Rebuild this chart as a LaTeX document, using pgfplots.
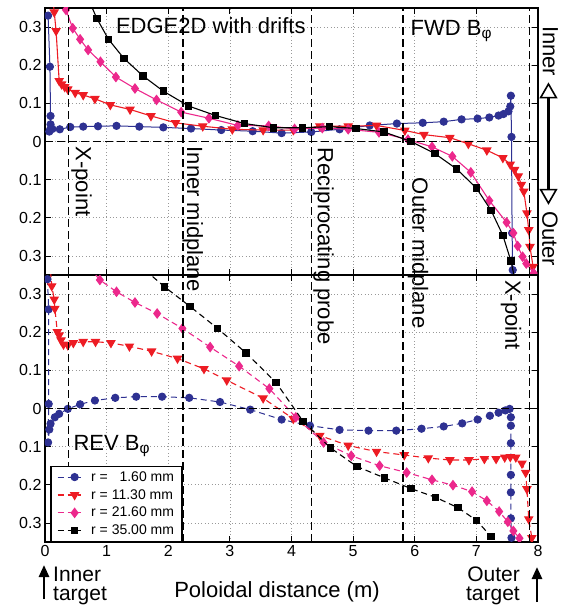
\documentclass[border=0pt]{standalone}
\usepackage{pgfplots}
\pgfplotsset{compat=1.18}
\usepackage{fontspec}
\setmainfont{Liberation Sans}
\usetikzlibrary{arrows.meta}

\definecolor{lineBlue}{RGB}{46,49,146}
\definecolor{lineRed}{RGB}{237,28,36}
\definecolor{linePink}{RGB}{236,40,140}

\newcommand{\bigtxt}{\fontsize{22}{24}\selectfont}
\newcommand{\midtxt}{\fontsize{21}{24}\selectfont}

\tikzset{vline/.style={black, line width=1.1pt, dash pattern=on 8pt off 4pt}}

\pgfplotsset{
  panel/.style={
    width=493pt, height=267pt, scale only axis,
    xmin=0, xmax=8, ymin=-0.35, ymax=0.35,
    xtick={0,1,...,8},
    ytick={-0.3,-0.2,-0.1,0,0.1,0.2,0.3},
    yticklabels={0.3,0.2,0.1,0,0.1,0.2,0.3},
    /pgf/number format/assume math mode=true,
    tick label style={font=\fontsize{16}{18}\selectfont},
    grid=major,
    grid style={gray!80, line width=0.6pt, dash pattern=on 0.8pt off 2.6pt},
    axis line style={line width=1.3pt},
    major tick length=6pt,
    tick style={line width=0.8pt, black},
    clip mode=individual,
    clip marker paths=true,
  },
  sBlue/.style={color=lineBlue, line width=1pt, mark=*, mark size=3.6pt, mark options={solid, fill=lineBlue}},
  sRed/.style={color=lineRed, line width=1.1pt, mark=triangle*, mark size=4.5pt, mark options={solid, rotate=180, fill=lineRed}},
  sPink/.style={color=linePink, line width=1.1pt, mark=diamond*, mark size=4.5pt, mark options={solid, fill=linePink}},
  sBlack/.style={color=black, line width=1.1pt, mark=square*, mark size=3.2pt, mark options={solid, fill=black}},
}

\begin{document}
\begin{tikzpicture}

% ---------- top panel: forward field ----------
\begin{axis}[panel, name=top, at={(0,267pt)}, anchor=south west, xticklabels={}]
  \addplot[sBlue] coordinates {
    (0.05,0.33) (0.08,0.196) (0.09,0.067) (0.09,0.045) (0.08,0.030) (0.07,0.026)
    (0.12,0.033) (0.24,0.032) (0.41,0.038) (0.62,0.039) (0.86,0.040) (1.16,0.041)
    (1.53,0.039) (1.92,0.037) (2.37,0.034) (2.86,0.030) (3.37,0.027) (3.84,0.022)
    (4.32,0.025) (4.78,0.032) (5.27,0.042) (5.71,0.047) (6.13,0.049) (6.47,0.052)
    (6.76,0.058) (7.02,0.060) (7.21,0.063) (7.36,0.068) (7.44,0.072) (7.52,0.079)
    (7.55,0.092) (7.56,0.120) (7.57,0.012) (7.58,-0.240) (7.59,-0.337)
  };
  \addplot[sRed] coordinates {
    (0.13,0.37) (0.15,0.339) (0.18,0.290) (0.23,0.159) (0.27,0.150) (0.32,0.143)
    (0.37,0.137) (0.49,0.128) (0.62,0.122) (0.81,0.112) (1.06,0.096) (1.38,0.084)
    (1.72,0.067) (2.12,0.049) (2.56,0.040) (3.04,0.032) (3.54,0.030) (4.03,0.030)
    (4.46,0.040) (4.92,0.040) (5.38,0.042) (5.84,0.029) (6.15,0.018) (6.57,0.010)
    (6.87,-0.006) (7.17,-0.023) (7.43,-0.043) (7.55,-0.060) (7.62,-0.074) (7.68,-0.091)
    (7.73,-0.113) (7.77,-0.131) (7.82,-0.188) (7.85,-0.232) (7.87,-0.276) (7.92,-0.328)
    (7.95,-0.37)
  };
  \addplot[sPink] coordinates {
    (0.34,0.345) (0.45,0.297) (0.57,0.268) (0.70,0.240) (0.90,0.209) (1.15,0.169)
    (1.46,0.139) (1.81,0.109) (2.21,0.077) (2.66,0.061) (3.13,0.042) (3.63,0.041)
    (4.05,0.033) (4.50,0.035) (4.92,0.032) (5.42,0.024) (5.89,0.005) (6.28,-0.014)
    (6.61,-0.039) (6.91,-0.081) (7.21,-0.155) (7.49,-0.212) (7.60,-0.240) (7.67,-0.274)
    (7.75,-0.302) (7.81,-0.320) (7.93,-0.345)
  };
  \addplot[sBlack] coordinates {
    (0.66,0.39) (0.84,0.323) (1.03,0.268) (1.28,0.218) (1.59,0.172) (1.92,0.132)
    (2.33,0.093) (2.77,0.068) (3.24,0.047) (3.71,0.036) (4.18,0.036) (4.62,0.039)
    (5.05,0.034) (5.50,0.025) (5.94,0.000) (6.33,-0.032) (6.68,-0.072) (7.00,-0.122)
    (7.24,-0.181) (7.43,-0.246) (7.56,-0.313) (7.65,-0.38)
  };
  \draw[vline] (axis cs:0,0) -- (axis cs:8,0);
  \draw[vline] (axis cs:0.38,-0.35) -- (axis cs:0.38,0.35);
  \draw[vline] (axis cs:2.24,-0.35) -- (axis cs:2.24,0.35);
  \draw[vline] (axis cs:4.32,-0.35) -- (axis cs:4.32,0.35);
  \draw[vline] (axis cs:5.81,-0.35) -- (axis cs:5.81,0.35);
  \draw[vline] (axis cs:7.86,-0.35) -- (axis cs:7.86,0.35);
  \node[anchor=base west, inner sep=0, font=\bigtxt] at (axis cs:1.15,0.282) {EDGE2D with drifts};
  \node[anchor=base west, inner sep=0, font=\bigtxt] at (axis cs:5.93,0.279) {FWD B\textsubscript{φ}};
  \node[rotate=-90, anchor=base west, inner sep=0, font=\bigtxt] at (axis cs:0.50,-0.013) {X-point};
  \node[rotate=-90, anchor=base west, inner sep=0, font=\bigtxt] at (axis cs:2.305,-0.013) {Inner midplane};
  \node[rotate=-90, anchor=base west, inner sep=0, font=\bigtxt] at (axis cs:4.43,-0.016) {Reciprocating probe};
  \node[rotate=-90, anchor=base west, inner sep=0, font=\bigtxt] at (axis cs:5.96,-0.095) {Outer midplane};
  \node[rotate=-90, anchor=base west, inner sep=0, font=\bigtxt] at (axis cs:8.08,0.303) {Inner};
  \node[rotate=-90, anchor=base west, inner sep=0, font=\bigtxt] at (axis cs:8.07,-0.182) {Outer};
  \draw[line width=3pt, -{Triangle[open, length=16pt, width=18pt, line width=1.6pt]}]
    (axis cs:8.17,0) -- (axis cs:8.17,0.155);
  \draw[line width=3pt, -{Triangle[open, length=16pt, width=18pt, line width=1.6pt]}]
    (axis cs:8.17,0) -- (axis cs:8.17,-0.166);
\end{axis}

% ---------- bottom panel: reversed field ----------
\begin{axis}[panel, name=bot, at={(0,0)}, anchor=south west,
    every axis plot/.append style={dash pattern=on 6pt off 4pt},
    legend style={at={(0.011,0.0)}, anchor=south west, draw=black, line width=1.3pt,
      font=\fontsize{14}{16}\selectfont, row sep=2.6pt, inner xsep=6pt, inner ysep=3pt,
      cells={anchor=west}},
    legend image code/.code={
      \draw[mark repeat=2, mark phase=2, #1] plot coordinates {(0pt,0pt) (17pt,0pt) (23pt,0pt)};
      \path (31pt,0pt);}]
  \addplot[sBlue] coordinates {
    (0.04,0.339) (0.06,0.260) (0.06,0.012) (0.05,-0.089) (0.07,-0.055) (0.09,-0.040)
    (0.16,-0.023) (0.23,-0.014) (0.37,-0.001) (0.57,0.011) (0.81,0.021) (1.14,0.028)
    (1.48,0.031) (1.90,0.031) (2.34,0.028) (2.84,0.017) (3.33,-0.003) (3.84,-0.029)
    (4.30,-0.045) (4.78,-0.056) (5.25,-0.058) (5.70,-0.058) (6.11,-0.053) (6.47,-0.047)
    (6.77,-0.039) (7.02,-0.029) (7.22,-0.019) (7.36,-0.011) (7.47,-0.005) (7.54,-0.001)
    (7.56,-0.023) (7.56,-0.045) (7.56,-0.091) (7.56,-0.174) (7.56,-0.220) (7.56,-0.288)
    (7.57,-0.339)
  };
  \addlegendentry{r = \phantom{1}1.60 mm}
  \addplot[sRed] coordinates {
    (0.09,0.36) (0.11,0.321) (0.15,0.286) (0.16,0.262) (0.20,0.201) (0.23,0.192)
    (0.26,0.179) (0.30,0.168) (0.37,0.166) (0.46,0.172) (0.62,0.175) (0.82,0.175)
    (1.07,0.172) (1.37,0.163) (1.73,0.150) (2.15,0.131) (2.58,0.104) (2.95,0.074)
    (3.54,0.027) (4.03,-0.027) (4.46,-0.071) (4.92,-0.097) (5.38,-0.113) (5.83,-0.122)
    (6.22,-0.130) (6.57,-0.135) (6.88,-0.135) (7.13,-0.132) (7.32,-0.132) (7.46,-0.128)
    (7.55,-0.127) (7.64,-0.128) (7.74,-0.144) (7.80,-0.168) (7.82,-0.211) (7.85,-0.290)
    (7.90,-0.339)
  };
  \addlegendentry{r = 11.30 mm}
  \addplot[sPink] coordinates {
    (0.72,0.37) (0.89,0.337) (1.16,0.306) (1.46,0.278) (1.82,0.249) (2.23,0.210)
    (2.68,0.161) (3.15,0.111) (3.64,0.052) (4.07,-0.023) (4.52,-0.089) (4.97,-0.124)
    (5.43,-0.150) (5.87,-0.168) (6.28,-0.187) (6.62,-0.201) (6.93,-0.218) (7.17,-0.242)
    (7.37,-0.270) (7.51,-0.297) (7.60,-0.321) (7.70,-0.340)
  };
  \addlegendentry{r = 21.60 mm}
  \addplot[sBlack] coordinates {
    (1.50,0.38) (1.94,0.319) (2.35,0.268) (2.80,0.210) (3.26,0.146) (3.75,0.068)
    (4.19,-0.034) (4.63,-0.103) (5.06,-0.152) (5.51,-0.182) (5.94,-0.210) (6.34,-0.233)
    (6.70,-0.260) (7.00,-0.293) (7.24,-0.336) (7.40,-0.37)
  };
  \addlegendentry{r = 35.00 mm}
  \draw[vline] (axis cs:0,0) -- (axis cs:8,0);
  \draw[vline] (axis cs:0.38,-0.35) -- (axis cs:0.38,0.35);
  \draw[vline] (axis cs:2.24,-0.35) -- (axis cs:2.24,0.35);
  \draw[vline] (axis cs:4.32,-0.35) -- (axis cs:4.32,0.35);
  \draw[vline] (axis cs:5.81,-0.35) -- (axis cs:5.81,0.35);
  \draw[vline] (axis cs:7.86,-0.35) -- (axis cs:7.86,0.35);
  \node[anchor=base west, inner sep=0, font=\bigtxt] at (axis cs:0.46,-0.111) {REV B\textsubscript{φ}};
  \node[rotate=-90, anchor=base west, inner sep=0, font=\bigtxt] at (axis cs:7.47,0.337) {X-point};
\end{axis}

% ---------- annotations below the x axis ----------
\node[anchor=base, inner sep=0, font=\bigtxt] at (232pt,-56pt) {Poloidal distance (m)};
\draw[line width=2.6pt, -{Triangle[length=12pt, width=10pt]}] (-1pt,-57pt) -- (-1pt,-23pt);
\node[anchor=base west, inner sep=0, font=\midtxt] at (8pt,-39.5pt) {Inner};
\node[anchor=base west, inner sep=0, font=\midtxt] at (8pt,-58pt) {target};
\draw[line width=2.6pt, -{Triangle[length=12pt, width=10pt]}] (492pt,-60pt) -- (492pt,-25pt);
\node[anchor=base east, inner sep=0, font=\midtxt] at (475pt,-39.5pt) {Outer};
\node[anchor=base east, inner sep=0, font=\midtxt] at (475pt,-58pt) {target};

\pgfresetboundingbox
\path[use as bounding box] (-45pt,-63pt) rectangle (517pt,542pt);
\end{tikzpicture}
\end{document}
